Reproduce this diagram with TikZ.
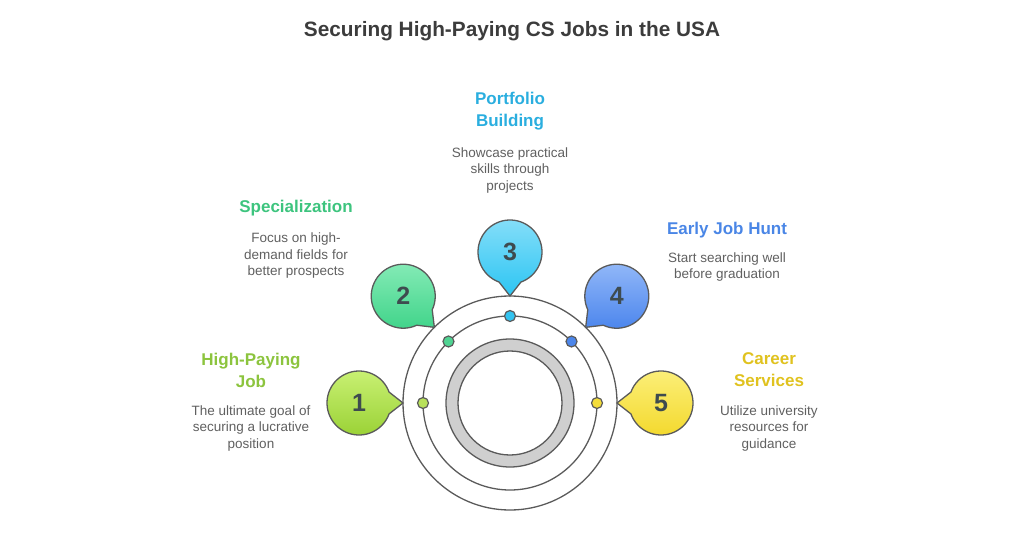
\documentclass[tikz,border=0pt]{standalone}
\usepackage{fontspec}
\setmainfont{Liberation Sans}
\usetikzlibrary{calc}
\definecolor{ringgray}{HTML}{5A5A5A}
\definecolor{ringfill}{HTML}{CFCFCF}
\definecolor{numgray}{HTML}{3E4B4F}
\definecolor{descgray}{HTML}{606060}
\definecolor{titlegray}{HTML}{3C3C3C}
\definecolor{c1top}{HTML}{CBF276}\definecolor{c1bot}{HTML}{98D033}
\definecolor{c1dot}{HTML}{B8E15A}\definecolor{c1txt}{HTML}{8CC43E}
\definecolor{c2top}{HTML}{88ECB8}\definecolor{c2bot}{HTML}{40D48A}
\definecolor{c2dot}{HTML}{4FD392}\definecolor{c2txt}{HTML}{3DC47E}
\definecolor{c3top}{HTML}{88DFF9}\definecolor{c3bot}{HTML}{2CC5F3}
\definecolor{c3dot}{HTML}{33C3F0}\definecolor{c3txt}{HTML}{2AAEDF}
\definecolor{c4top}{HTML}{95BAF9}\definecolor{c4bot}{HTML}{4883EC}
\definecolor{c4dot}{HTML}{4C86EA}\definecolor{c4txt}{HTML}{4A86E6}
\definecolor{c5top}{HTML}{FCF07C}\definecolor{c5bot}{HTML}{F3D82A}
\definecolor{c5dot}{HTML}{F4DD3A}\definecolor{c5txt}{HTML}{E0C21F}
\begin{document}
\begin{tikzpicture}
[x=1pt,y=1pt,
  ringline/.style={draw=ringgray,line width=1.3pt},
  titletext/.style={font=\bfseries\fontsize{20.8}{25}\selectfont,text=titlegray},
  headtext/.style={font=\bfseries\fontsize{17}{22}\selectfont,align=center},
  desctext/.style={font=\fontsize{13.5}{16.5}\selectfont,text=descgray,align=center},
  numtext/.style={font=\bfseries\fontsize{25}{28}\selectfont,text=numgray},
  dotdecorate/.style={shape=circle,inner sep=0pt,minimum size=11pt,draw=ringgray,line width=1.2pt}]
\useasboundingbox (0,0) rectangle (1024,536);
%% title
\node (title) at (512,505) [titletext] {Securing High-Paying CS Jobs in the USA};
%% rings
\coordinate (hub) at (510,133);
\draw [ringline] (hub) circle (107pt);
\draw [ringline] (hub) circle (87pt);
\draw [ringline,fill=ringfill,even odd rule] (hub) circle (64pt) (hub) circle (52pt);
%% bubbles, dots and numbers
\foreach \num/\ang in {1/180, 2/135, 3/90, 4/45, 5/0} {
  \coordinate (tip\num) at ($(hub)+(\ang:107pt)$);
  \coordinate (bub\num) at ($(hub)+(\ang:151pt)$);
  \pgfmathsetmacro\start{\ang+200}
  \pgfmathsetmacro\stop{\ang+520}
  \draw [ringline,top color=c\num top,bottom color=c\num bot]
    (bub\num) ++(\start:32pt) arc [start angle=\start,end angle=\stop,radius=32pt]
    -- (tip\num) -- cycle;
  \node (num\num) at (bub\num) [numtext] {\num};
  \node (dot\num) at ($(hub)+(\ang:87pt)$) [dotdecorate,fill=c\num dot] {};
}
%% headings and descriptions
\foreach \num/\x/\hy/\dy/\head/\desc in {
  1/251/166/107.5/{High-Paying\\Job}/{The ultimate goal of\\securing a lucrative\\position},
  2/296/328/280/{Specialization}/{Focus on high-\\demand fields for\\better prospects},
  3/510/424.5/365.5/{Portfolio\\Building}/{Showcase practical\\skills through\\projects},
  4/727/306/269/{Early Job Hunt}/{Start searching well\\before graduation},
  5/769/166/107.5/{Career\\Services}/{Utilize university\\resources for\\guidance}} {
  \node (head\num) at (\x,\hy) [headtext,text=c\num txt] {\head};
  \node (desc\num) at (\x,\dy) [desctext] {\desc};
}
\end{tikzpicture}
\end{document}
